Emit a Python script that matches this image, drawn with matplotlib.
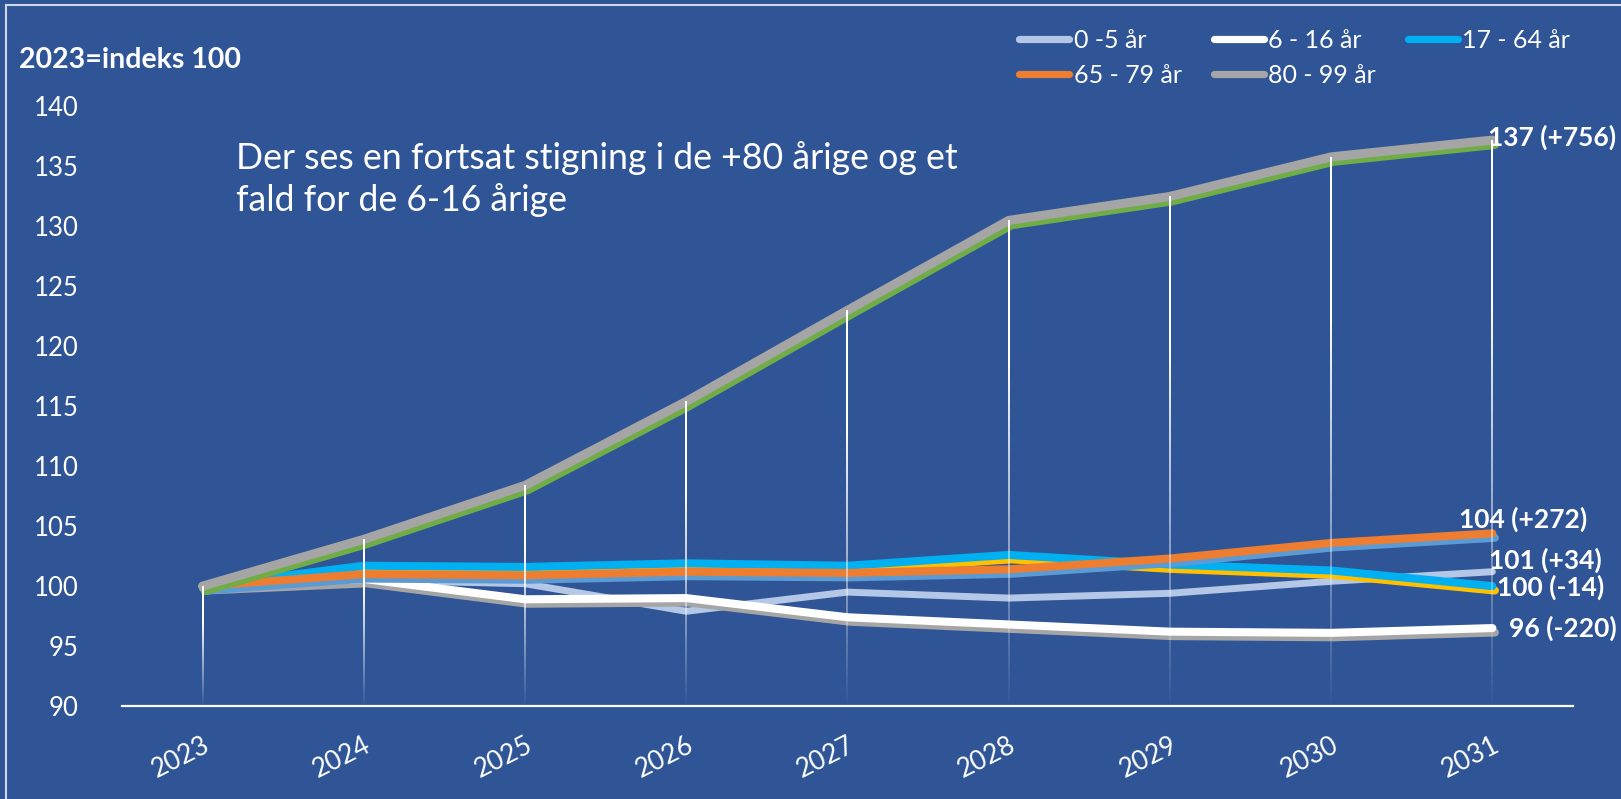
import numpy as np
import matplotlib.pyplot as plt
from matplotlib import patheffects as pe
from matplotlib.lines import Line2D
from matplotlib.collections import LineCollection

plt.rcParams['font.family'] = ['Lato', 'DejaVu Sans']

# data (index, 2023 = 100)
years = ['2023', '2024', '2025', '2026', '2027', '2028', '2029', '2030', '2031']
age_0_5 = [99.8, 100.5, 100.2, 97.9, 99.5, 99.0, 99.4, 100.4, 101.2]
age_6_16 = [100.0, 100.6, 98.9, 99.0, 97.4, 96.8, 96.2, 96.1, 96.5]
age_17_64 = [100.0, 101.7, 101.6, 101.9, 101.7, 102.6, 101.8, 101.3, 100.0]
age_65_79 = [100.0, 101.0, 100.9, 101.2, 101.1, 101.4, 102.3, 103.6, 104.4]
age_80_99 = [100.0, 103.9, 108.4, 115.4, 123.0, 130.5, 132.5, 135.8, 137.2]
end_labels = ['101 (+34)', '96 (-220)', '100 (-14)', '104 (+272)', '137 (+756)']
series_names = ['0 -5 år', '6 - 16 år', '17 - 64 år', '65 - 79 år', '80 - 99 år']

bg = '#2F5597'
colors = ['#B4C7E7', '#FFFFFF', '#00B0F0', '#ED7D31', '#A5A5A5']
shadow_colors = [None, '#A5A5A5', '#FFC000', '#5B9BD5', '#70AD47']
widths = [5.0, 5.8, 5.8, 5.8, 6.5]

fig = plt.figure(figsize=(16.21, 7.99), dpi=100, facecolor=bg)
ax = fig.add_axes([122 / 1621, 93 / 799, 1451 / 1621, 599.5 / 799])
ax.set_facecolor(bg)

x = np.arange(len(years))
all_series = [age_0_5, age_6_16, age_17_64, age_65_79, age_80_99]
for i, vals in enumerate(all_series):
    effects = [pe.Normal()]
    if shadow_colors[i]:
        effects = [pe.SimpleLineShadow(offset=(1.8, -3.2), shadow_color=shadow_colors[i], alpha=1),
                   pe.Normal()]
    ax.plot(x, vals, color=colors[i], lw=widths[i], solid_capstyle='round',
            solid_joinstyle='round', zorder=3 + i, path_effects=effects)

# drop lines fading towards the axis
tops = np.max(np.array(all_series), axis=0)
segs, cols = [], []
for xi, top in zip(x, tops):
    ys = np.linspace(top, 90, 80)
    for k in range(len(ys) - 1):
        f = k / (len(ys) - 1)
        segs.append([(xi, ys[k]), (xi, ys[k + 1])])
        cols.append((1, 1, 1, float(np.clip(1.4 * (1 - f), 0, 1))))
ax.add_collection(LineCollection(segs, colors=cols, linewidths=1.2, antialiaseds=False,
                                 capstyle='butt', zorder=10))

ax.set_xlim(-0.5, 8.5)
ax.set_ylim(90, 140)
ax.set_yticks(np.arange(90, 141, 5))
ax.set_xticks(x)
ax.set_xticklabels(years, rotation=27, ha='right', va='top', rotation_mode='anchor')
ax.tick_params(axis='y', length=0, pad=31, labelsize=18.5, labelcolor='white')
ax.tick_params(axis='x', length=0, pad=19, labelsize=19, labelcolor='white')
for s in ['top', 'right', 'left']:
    ax.spines[s].set_visible(False)
ax.spines['bottom'].set_color('white')
ax.spines['bottom'].set_linewidth(1.6)

# end-of-line labels
offsets = [(-2.5, 8), (12, 0), (3, -1), (22, 10), (-3, 2)]
for vals, lab, off in zip(all_series, end_labels, offsets):
    ha = 'center' if lab.startswith('104') else 'left'
    ax.annotate(lab, (x[-1], vals[-1]), xytext=off, textcoords='offset points',
                ha=ha, va='center', fontsize=19, fontweight='bold', color='white',
                annotation_clip=False, zorder=12)

fig.text(19 / 1621, 1 - 68 / 799, '2023=indeks 100', fontsize=20.5, fontweight='bold',
         color='white', va='baseline')
fig.text(236 / 1621, 1 - 141 / 799,
         'Der ses en fortsat stigning i de +80 årige og et\nfald for de 6-16 årige',
         fontsize=25.7, color='white', va='top', linespacing=1.3)

# legend, row-wise order
handles = [Line2D([], [], color=c, lw=5.2, solid_capstyle='round') for c in colors]
order = [0, 3, 1, 4, 2]
fig.legend([handles[i] for i in order], [series_names[i] for i in order],
           ncol=3, loc='upper left', bbox_to_anchor=(1019 / 1621, 1 - 29 / 799),
           frameon=False, fontsize=18, labelcolor='white', handlelength=2.0,
           handletextpad=0.18, columnspacing=1.28, labelspacing=0.47, borderpad=0,
           borderaxespad=0)

# frame edge at top and left
fig.add_artist(Line2D([6 / 1621, 6 / 1621], [0, 1 - 5 / 799], color='#D0D8E8', lw=1.5))
fig.add_artist(Line2D([6 / 1621, 1], [1 - 5 / 799, 1 - 5 / 799], color='#D0D8E8', lw=1.5))

fig.savefig('out.png', dpi=100, facecolor=bg)
